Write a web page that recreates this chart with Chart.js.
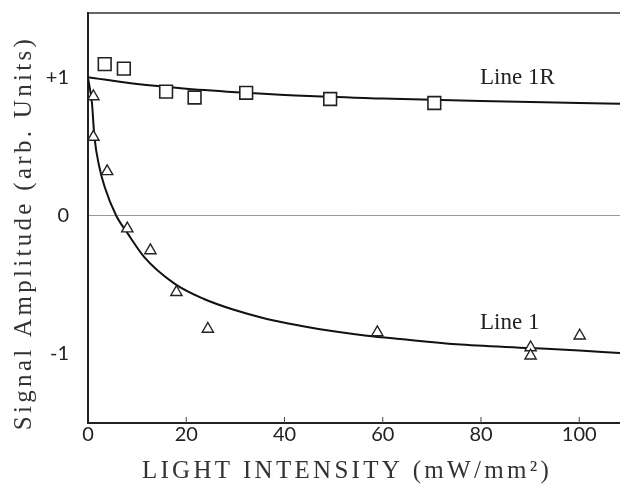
<!DOCTYPE html>
<html lang="en">
<head>
    <meta charset="UTF-8">
    <title>Signal Amplitude vs Light Intensity</title>
    <script src="https://cdn.jsdelivr.net/npm/chart.js"></script>
    <style>
        html, body { margin: 0; padding: 0; overflow: hidden; background: #fff; }
        canvas { display: block; }
    </style>
</head>
<body>
    <canvas id="ampChart" width="620" height="484"></canvas>

    <script>
        // measured points, Line 1R (squares)
        var squareX = [3.4, 7.3, 15.9, 21.7, 32.2, 49.3, 70.5];
        var squareY = [1.10, 1.067, 0.90, 0.858, 0.892, 0.847, 0.818];

        // measured points, Line 1 (triangles)
        var triangleX = [1.1, 1.1, 3.9, 8.0, 12.7, 18.0, 24.4, 58.9, 90.1, 90.1, 100.1];
        var triangleY = [0.865, 0.572, 0.323, -0.092, -0.25, -0.553, -0.819, -0.844, -0.953, -1.013, -0.868];

        // fitted curves
        var fit1RX = [0, 10, 20, 32, 45, 60, 80, 100, 108.3];
        var fit1RY = [1.005, 0.955, 0.922, 0.893, 0.868, 0.85, 0.832, 0.818, 0.812];

        var fit1X = [0, 0.8, 1.3, 2.3, 3.4, 5.7, 8.1, 11.5, 17.6, 23.5, 29.7, 36.4, 43.2, 50, 56.8, 63.5, 75, 90, 100, 108.3];
        var fit1Y = [1.0, 0.82, 0.575, 0.356, 0.21, 0.005, -0.128, -0.30, -0.49, -0.6, -0.68, -0.746, -0.795, -0.836, -0.868, -0.892, -0.93, -0.957, -0.975, -0.993];

        var xTicks = [0, 20, 40, 60, 80, 100];
        var yTickLabels = { '1': '+1', '0': '0', '-1': '-1' };

        var curveLabels = ['Line 1R', 'Line 1'];

        function toPoints(xs, ys) {
            return xs.map(function (x, i) { return { x: x, y: ys[i] }; });
        }

        // no extra room for half tick labels, the frame is set by hand
        function noPadding(scale) {
            scale.paddingTop = 0;
            scale.paddingBottom = 0;
            scale.paddingLeft = 0;
            scale.paddingRight = 0;
        }

        // axis titles, top frame line, inward tick marks and curve labels
        var extrasPlugin = {
            id: 'extras',
            afterDraw: function (chart) {
                var ctx = chart.ctx;
                var area = chart.chartArea;
                var xs = chart.scales.x;
                var ys = chart.scales.y;

                ctx.save();
                // top frame
                ctx.strokeStyle = '#333';
                ctx.lineWidth = 1.5;
                ctx.beginPath();
                ctx.moveTo(area.left, area.top);
                ctx.lineTo(area.right, area.top);
                ctx.stroke();

                // small tick marks pointing into the plot
                ctx.lineWidth = 1;
                ctx.strokeStyle = '#444';
                xTicks.forEach(function (v) {
                    if (v === 0) return;
                    var px = xs.getPixelForValue(v);
                    ctx.beginPath();
                    ctx.moveTo(px, area.bottom);
                    ctx.lineTo(px, area.bottom - 6);
                    ctx.stroke();
                });

                // curve labels
                ctx.fillStyle = '#222';
                ctx.font = '23px "Liberation Serif"';
                ctx.textAlign = 'left';
                ctx.textBaseline = 'middle';
                ctx.fillText(curveLabels[0], xs.getPixelForValue(79.8), ys.getPixelForValue(1.0));
                ctx.fillText(curveLabels[1], xs.getPixelForValue(79.8), ys.getPixelForValue(-0.776));

                // axis titles, letter spaced
                ctx.fillStyle = '#333';
                ctx.font = '25px "Liberation Serif"';
                ctx.textAlign = 'center';
                ctx.letterSpacing = '3.3px';
                ctx.fillText('LIGHT INTENSITY (mW/mm\u00B2)', 347, 471);

                ctx.translate(24, 233);
                ctx.rotate(-Math.PI / 2);
                ctx.fillText('Signal Amplitude (arb. Units)', 0, 0);
                ctx.restore();
            }
        };

        var ctx = document.getElementById('ampChart').getContext('2d');
        var ampChart = new Chart(ctx, {
            type: 'scatter',
            data: {
                datasets: [
                    {
                        label: 'Line 1R data',
                        data: toPoints(squareX, squareY),
                        pointStyle: 'rect',
                        pointRadius: 9,
                        backgroundColor: '#fff',
                        borderColor: '#222',
                        borderWidth: 1.6,
                    },
                    {
                        label: 'Line 1 data',
                        data: toPoints(triangleX, triangleY),
                        pointStyle: 'triangle',
                        pointRadius: 6.5,
                        backgroundColor: '#fff',
                        borderColor: '#222',
                        borderWidth: 1.4,
                    },
                    {
                        label: 'Line 1R',
                        data: toPoints(fit1RX, fit1RY),
                        showLine: true,
                        pointRadius: 0,
                        borderColor: '#111',
                        borderWidth: 2,
                        cubicInterpolationMode: 'monotone',
                    },
                    {
                        label: 'Line 1',
                        data: toPoints(fit1X, fit1Y),
                        showLine: true,
                        pointRadius: 0,
                        borderColor: '#111',
                        borderWidth: 2,
                        cubicInterpolationMode: 'monotone',
                    },
                ],
            },
            options: {
                responsive: false,
                animation: false,
                layout: { autoPadding: false, padding: { top: 13, right: 0, bottom: 0, left: 0 } },
                plugins: {
                    legend: { display: false },
                    tooltip: { enabled: false },
                },
                scales: {
                    x: {
                        type: 'linear',
                        min: 0,
                        max: 108.3,
                        afterFit: function (scale) {
                            scale.height = 61;
                            noPadding(scale);
                        },
                        afterBuildTicks: function (scale) {
                            scale.ticks = xTicks.map(function (v) { return { value: v }; });
                        },
                        grid: { display: false },
                        border: { color: '#222', width: 2 },
                        ticks: {
                            padding: -8,
                            color: '#222',
                            font: { family: 'Lato', size: 20 },
                        },
                    },
                    y: {
                        min: -1.5,
                        max: 1.47,
                        afterFit: function (scale) {
                            scale.width = 88;
                            noPadding(scale);
                        },
                        afterBuildTicks: function (scale) {
                            scale.ticks = [{ value: -1 }, { value: 0 }, { value: 1 }];
                        },
                        grid: {
                            drawTicks: false,
                            color: function (c) { return c.tick && c.tick.value === 0 ? '#999' : 'rgba(0,0,0,0)'; },
                            lineWidth: 1,
                        },
                        border: { color: '#222', width: 2 },
                        ticks: {
                            padding: 19,
                            color: '#222',
                            font: { family: 'Lato', size: 20 },
                            callback: function (v) { return yTickLabels[String(v)]; },
                        },
                    },
                },
            },
            plugins: [extrasPlugin],
        });
    </script>
</body>
</html>
